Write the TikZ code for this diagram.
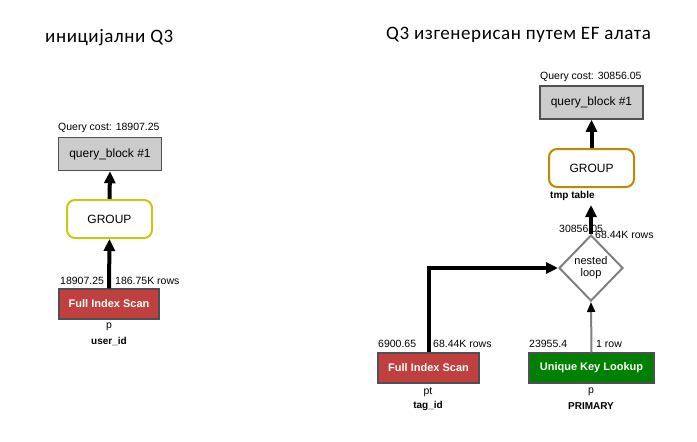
\documentclass[tikz,border=0pt]{standalone}
\usepackage{fontspec}
\setmainfont{Liberation Sans}
\newfontfamily\titlefont[LetterSpace=3]{Carlito}
\usetikzlibrary{arrows.meta,shapes.geometric}
\definecolor{qbfill}{RGB}{204,204,204}
\definecolor{qbdraw}{RGB}{80,80,80}
\definecolor{scanred}{RGB}{192,64,64}
\definecolor{lookgreen}{RGB}{0,128,0}
\definecolor{grpyellow}{RGB}{200,200,20}
\definecolor{grporange}{RGB}{195,135,0}
\definecolor{diagray}{RGB}{128,128,128}
\tikzset{
  qblock/.style={draw=qbdraw,line width=1.5pt,fill=qbfill,minimum width=103pt,minimum height=33pt,inner sep=0pt,font=\fontsize{12}{14}\selectfont},
  grpbox/.style={draw,line width=2pt,fill=white,rounded corners=8pt,minimum width=85pt,minimum height=38pt,inner sep=0pt,font=\fontsize{12}{14}\selectfont},
  opbox/.style={draw=qbdraw,line width=1.2pt,minimum height=30pt,inner sep=0pt,text=white,font=\fontsize{11}{13}\selectfont\bfseries},
  lbl/.style={inner sep=0pt,font=\fontsize{10.5}{12}\selectfont},
  blbl/.style={inner sep=0pt,font=\fontsize{10}{12}\selectfont\bfseries},
  ttl/.style={inner sep=0pt,font=\titlefont\fontsize{19}{22}\selectfont},
  thickarrow/.style={line width=4pt,-{Triangle[width=11pt,length=12pt]}},
  thinarrow/.style={line width=2pt,draw=diagray,-{Triangle[width=8pt,length=10pt,color=black]}},
  dia/.style={diamond,draw=diagray,line width=2pt,fill=white,minimum width=64pt,minimum height=66pt,inner sep=0pt,align=center,font=\fontsize{11}{12}\selectfont}
}
\begin{document}
\begin{tikzpicture}[x=1pt,y=-1pt]
\useasboundingbox (0,0) rectangle (697,442);
% titles
\node[ttl,anchor=base west] (t1) at (45,42) {иницијални Q3};
\node[ttl,anchor=base west] (t2) at (386,39) {Q3 изгенерисан путем EF алата};
% left diagram
\node[lbl,anchor=west] (qc1) at (58,128) {Query cost: 18907.25};
\node[qblock] (qb1) at (110,154) {query\_block \#1};
\node[grpbox,draw=grpyellow] (g1) at (109.5,219) {GROUP};
\node[opbox,fill=scanred,minimum width=100pt] (s1) at (109,304) {Full Index Scan};
\node[lbl,anchor=west] (c1) at (60,281) {18907.25};
\node[lbl,anchor=west] (r1) at (115,281) {186.75K rows};
\node[lbl] (p1) at (109,327) {p};
\node[blbl] (k1) at (109,341) {user\_id};
\draw[thickarrow] (s1.north) -- (g1.south);
\draw[thickarrow] (g1.north) -- (qb1.south);
% right diagram
\node[lbl,anchor=west] (qc2) at (540,77) {Query cost: 30856.05};
\node[qblock] (qb2) at (591.5,102.5) {query\_block \#1};
\node[grpbox,draw=grporange] (g2) at (591.5,168) {GROUP};
\node[blbl,anchor=west] (tmp) at (550,196) {tmp table};
\coordinate (gin) at (591,205);
\node[dia] (d) at (591,268) {nested\\loop};
\node[opbox,fill=scanred,minimum width=101pt] (s2) at (428.5,368) {Full Index Scan};
\node[opbox,fill=lookgreen,minimum width=125pt] (u) at (591.5,368) {Unique Key Lookup};
\node[lbl,anchor=west] (c2) at (378,344) {6900.65};
\node[lbl,anchor=west] (r2) at (433,344) {68.44K rows};
\node[lbl,anchor=west] (c3) at (529,344) {23955.4};
\node[lbl,anchor=west] (r3) at (596,344) {1 row};
\node[lbl] (p2) at (428,392) {pt};
\node[blbl] (k2) at (428,406) {tag\_id};
\node[lbl] (p3) at (591,392) {p};
\node[blbl] (k3) at (591,406) {PRIMARY};
\draw[thickarrow] (g2.north) -- (qb2.south);
\draw[thickarrow] (d.north) -- (gin);
\draw[thickarrow] (s2.north) |- (d.west);
\draw[thinarrow] (u.north) -- (d.south);
\node[lbl,anchor=west] (c4) at (559,229) {30856.05};
\node[lbl,anchor=west] (r4) at (595,235) {68.44K rows};
\end{tikzpicture}
\end{document}
